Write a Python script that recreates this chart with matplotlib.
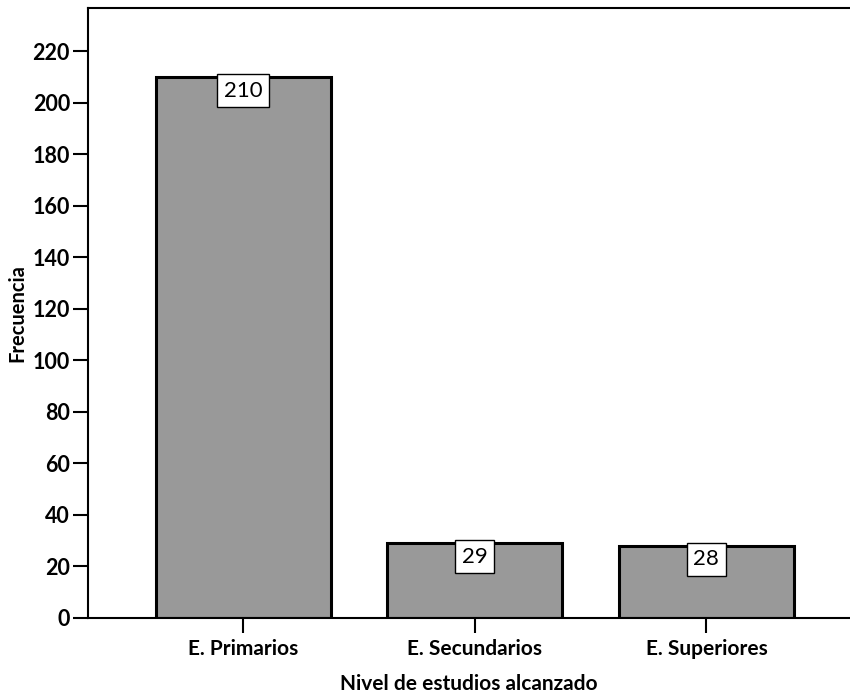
import matplotlib
matplotlib.use("Agg")
import matplotlib.pyplot as plt

categorias = ["E. Primarios", "E. Secundarios", "E. Superiores"]
frecuencias = [210, 29, 28]
yticks = list(range(0, 221, 20))

plt.rcParams['font.family'] = ['Lato', 'DejaVu Sans']

fig = plt.figure(figsize=(8.5, 6.95), dpi=100)
ax = fig.add_axes([88 / 850, 1 - 618 / 695, 1 - 88 / 850, (618 - 7.5) / 695])

x = range(len(categorias))
ax.bar(x, frecuencias, width=0.756, color='#999999', edgecolor='black', linewidth=2.2, zorder=2)

for xi, v in zip(x, frecuencias):
    ax.annotate(str(v), (xi, v), xytext=(0, -2.5), textcoords='offset points',
                ha='center', va='top', fontsize=16, color='black', zorder=3,
                bbox=dict(boxstyle='square,pad=0.3', fc='white', ec='black', lw=1.0))

ax.set_xlim(-0.67, 2.62)
ax.set_ylim(0, 237)
ax.set_xticks(list(x))
ax.set_xticklabels(categorias, fontsize=15, fontweight='bold')
ax.set_yticks(yticks)
ax.set_yticklabels([str(t) for t in yticks], fontsize=15.5, fontweight='bold')
ax.tick_params(axis='both', direction='out', length=11, width=1.5, pad=2)
ax.tick_params(axis='x', pad=4)

ax.spines['right'].set_visible(False)
for s in ['left', 'top', 'bottom']:
    ax.spines[s].set_linewidth(1.5)

ax.set_xlabel("Nivel de estudios alcanzado", fontsize=15, fontweight='bold', labelpad=11)
ax.set_ylabel("Frecuencia", fontsize=14.5, fontweight='bold', labelpad=4)

fig.savefig("out.png", dpi=100)
